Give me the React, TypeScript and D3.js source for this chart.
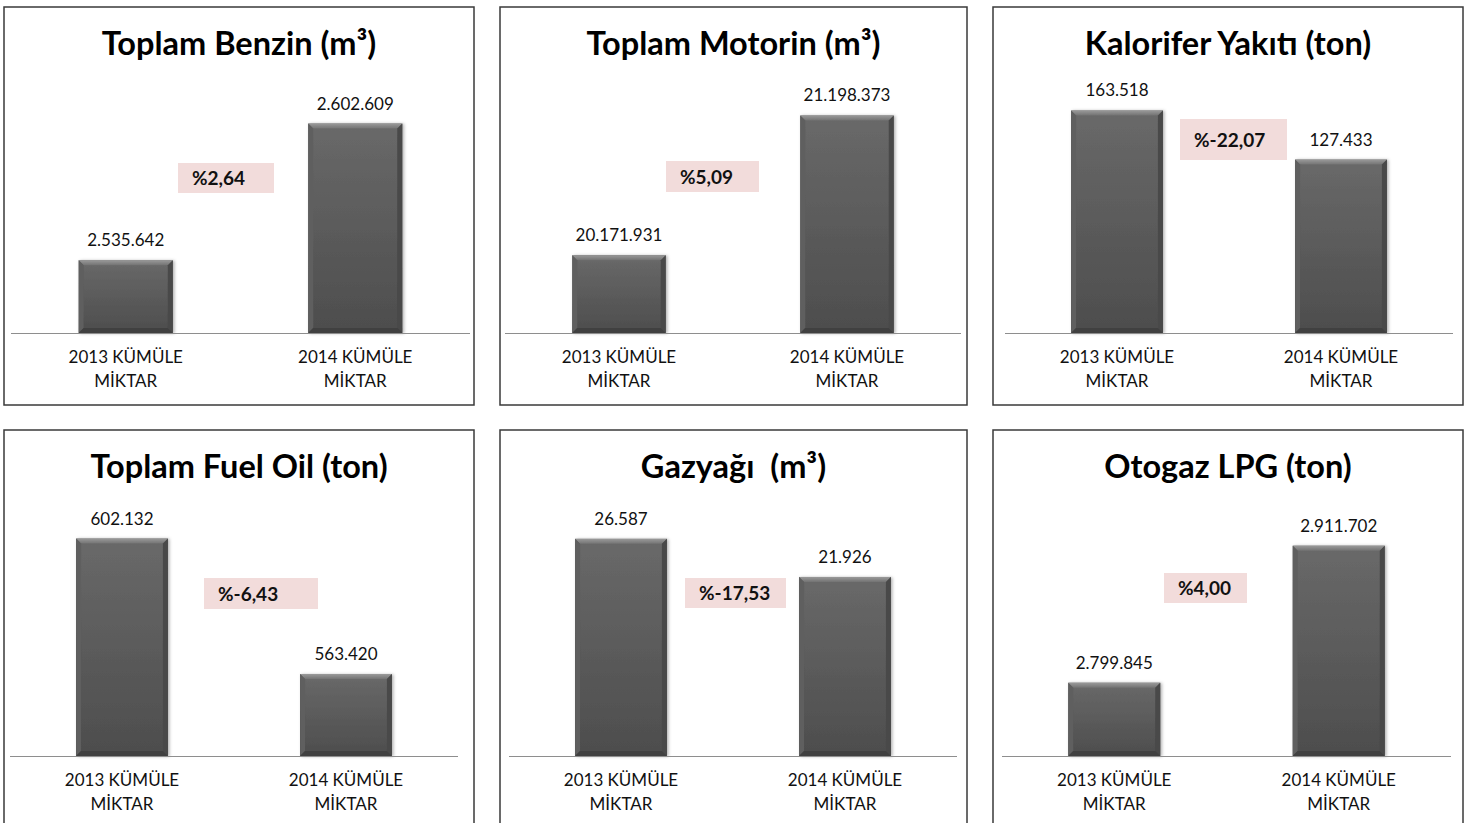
import React from 'react';
import * as d3 from 'd3';

// chart values
const titles = [
	'Toplam Benzin (m³)',
	'Toplam Motorin (m³)',
	'Kalorifer Yakıtı (ton)',
	'Toplam Fuel Oil (ton)',
	'Gazyağı  (m³)',
	'Otogaz LPG (ton)',
];
const categories = ['2013', '2014'];
const categoryLines = [
	['2013 KÜMÜLE', 'MİKTAR'],
	['2014 KÜMÜLE', 'MİKTAR'],
];
const values2013 = [2535642, 20171931, 163518, 602132, 26587, 2799845];
const values2014 = [2602609, 21198373, 127433, 563420, 21926, 2911702];
// value axis of each small chart (estimated, the axes are hidden)
const axisMin = [2500000, 19600000, 0, 540000, 0, 2740000];
const axisMax = [2620000, 21400000, 180000, 610000, 30000, 2940000];

// layout
const W = 1481;
const H = 823;
const frames = [
	{ x: 4, y: 7, w: 470, axis: [11, 470], badge: [178, 163, 96, 30] },
	{ x: 500, y: 7, w: 467, axis: [505, 961], badge: [666, 161, 93, 31] },
	{ x: 993, y: 7, w: 470, axis: [1005, 1453], badge: [1180, 119, 107, 41] },
	{ x: 4, y: 430, w: 470, axis: [10, 458], badge: [204, 578, 114, 31] },
	{ x: 500, y: 430, w: 467, axis: [509, 957], badge: [685, 578, 101, 30] },
	{ x: 993, y: 430, w: 470, axis: [1002, 1451], badge: [1164, 573, 83, 30] },
];
const frameHeight = [398, 398, 398, 420, 420, 420];
const plotH = 245;
const baseOffset = 326; // baseline below frame top
const font = "Lato, 'Open Sans', sans-serif";

const tr = d3.formatLocale({ decimal: ',', thousands: '.', grouping: [3], currency: ['', ''], minus: '-' });
const fmtVal = tr.format(',d');
const fmtPct = tr.format('.2f');

const Bar: React.FC<{ x: number; y: number; w: number; h: number }> = ({ x, y, w, h }) => {
	const b = Math.min(5, h / 3);
	return (
		<g filter="url(#barShadow)">
			<rect x={x} y={y} width={w} height={h} fill="url(#barBody)" />
			<polygon points={`${x},${y} ${x + w},${y} ${x + w - b},${y + b} ${x + b},${y + b}`} fill="url(#barTop)" />
			<polygon points={`${x},${y} ${x + b},${y + b} ${x + b},${y + h - b} ${x},${y + h}`} fill="#5e5e5e" />
			<polygon
				points={`${x + w},${y} ${x + w},${y + h} ${x + w - b},${y + h - b} ${x + w - b},${y + b}`}
				fill="#484848"
			/>
			<polygon
				points={`${x},${y + h} ${x + b},${y + h - b} ${x + w - b},${y + h - b} ${x + w},${y + h}`}
				fill="#3f3f3f"
			/>
		</g>
	);
};

const Panel: React.FC<{ i: number }> = ({ i }) => {
	const f = frames[i];
	const base = f.y + baseOffset;
	const x = d3.scaleBand().domain(categories).range(f.axis).paddingInner(0.59).paddingOuter(0.295);
	const y = d3.scaleLinear().domain([axisMin[i], axisMax[i]]).range([base, base - plotH]);
	const vals = [values2013[i], values2014[i]];
	const change = (values2014[i] / values2013[i] - 1) * 100;
	const [bx, by, bw, bh] = f.badge;

	return (
		<g>
			<rect x={f.x} y={f.y} width={f.w} height={frameHeight[i]} fill="#fff" stroke="#3a3a3a" strokeWidth={1.5} />
			<text
				x={f.x + f.w / 2}
				y={f.y + 48}
				textAnchor="middle"
				fontFamily={font}
				fontWeight="bold"
				fontSize={32.5}
				fill="#000"
				style={{ whiteSpace: 'pre' }}
			>
				{titles[i]}
			</text>
			{categories.map((c, k) => {
				const bx0 = x(c) as number;
				const top = y(vals[k]);
				const cx = bx0 + x.bandwidth() / 2;
				return (
					<g key={c}>
						<Bar x={bx0} y={top} w={x.bandwidth()} h={base - top} />
						<text x={cx} y={top - 14} textAnchor="middle" fontFamily={font} fontSize={17} fill="#111">
							{fmtVal(vals[k])}
						</text>
						{categoryLines[k].map((line, j) => (
							<text
								key={j}
								x={cx}
								y={base + 30 + j * 23.5}
								textAnchor="middle"
								fontFamily={font}
								fontSize={17}
								fill="#111"
							>
								{line}
							</text>
						))}
					</g>
				);
			})}
			<line x1={f.axis[0]} x2={f.axis[1]} y1={base + 0.5} y2={base + 0.5} stroke="#8e8e8e" strokeWidth={1} />
			<rect x={bx} y={by} width={bw} height={bh} fill="#f2dcdb" />
			<text x={bx + 14} y={by + bh / 2 + 7} fontFamily={font} fontWeight="bold" fontSize={19} fill="#111">
				{'%' + fmtPct(change)}
			</text>
		</g>
	);
};

const App: React.FC = () => {
	return (
		<svg width={W} height={H} style={{ position: 'absolute', left: 0, top: 0, background: '#fff' }}>
			<defs>
				<linearGradient id="barBody" x1="0" y1="0" x2="0" y2="1">
					<stop offset="0%" stopColor="#696969" />
					<stop offset="100%" stopColor="#4d4d4d" />
				</linearGradient>
				<linearGradient id="barTop" x1="0" y1="0" x2="0" y2="1">
					<stop offset="0%" stopColor="#9a9a9a" />
					<stop offset="100%" stopColor="#737373" />
				</linearGradient>
				<filter id="barShadow" x="-10%" y="-10%" width="130%" height="130%">
					<feDropShadow dx={1.5} dy={0.5} stdDeviation={1.5} floodColor="#000" floodOpacity={0.3} />
				</filter>
			</defs>
			{titles.map((_, i) => (
				<Panel key={i} i={i} />
			))}
		</svg>
	);
};

export default App;
